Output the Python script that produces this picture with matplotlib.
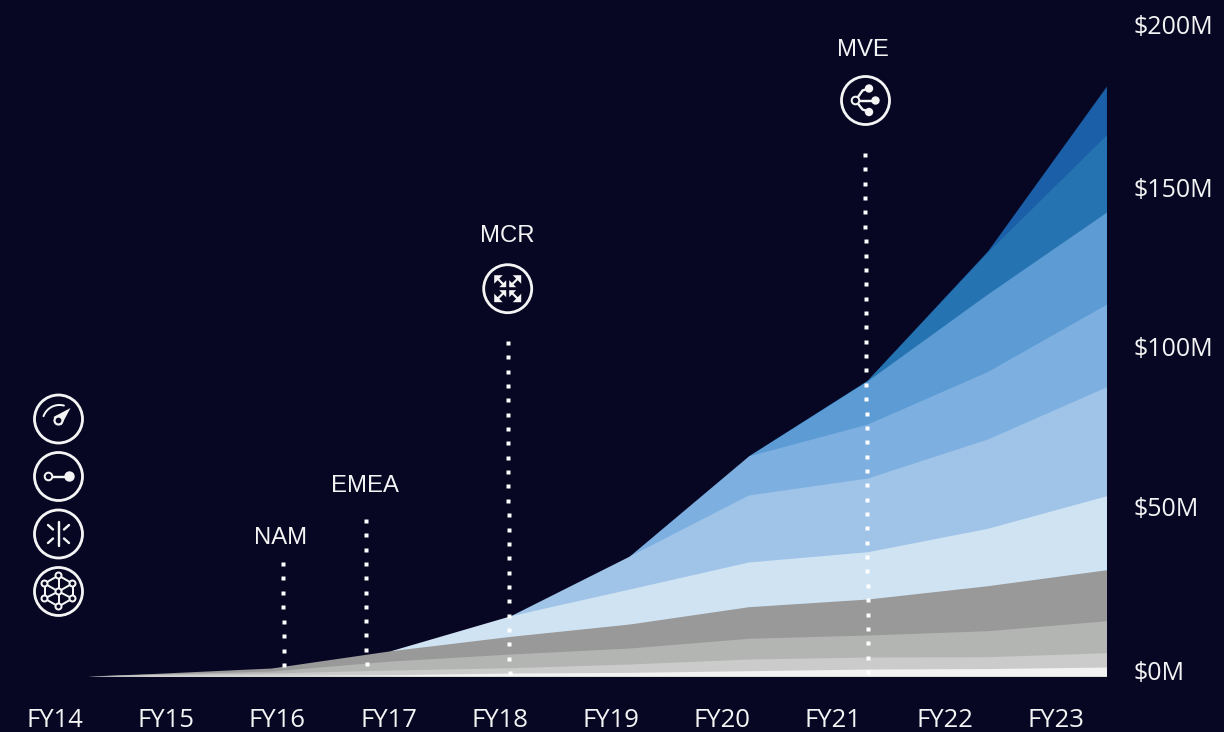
import numpy as np
import matplotlib
matplotlib.use('Agg')
import matplotlib.pyplot as plt
from matplotlib.patches import Circle, Polygon

BG = '#070724'
WHITE = '#f4f4f4'

# fiscal year positions of the area vertices (0 = FY14)
years = [0.30, 0.87, 1.95, 3.02, 4.10, 5.17, 6.24, 7.31, 8.39, 9.46]

# stacked layers in $M, bottom to top
layer1 = [0, 0.15, 0.22, 0.40, 0.93, 1.14, 1.64, 2.16, 2.32, 2.78]
layer2 = [0, 0.31, 0.71, 1.45, 1.64, 2.57, 3.62, 3.71, 3.65, 4.42]
layer3 = [0, 0.15, 0.62, 2.78, 4.23, 4.95, 6.40, 6.80, 8.04, 9.89]
layer4 = [0, 0.15, 0.93, 3.18, 5.47, 7.42, 9.77, 11.13, 13.91, 15.77]
layer5 = [0, 0, 0, 0, 6.37, 10.82, 13.82, 14.62, 17.74, 22.87]
layer6 = [0, 0, 0, 0, 0, 10.20, 20.71, 22.78, 27.60, 33.69]
layer7 = [0, 0, 0, 0, 0, 0, 12.06, 16.69, 20.87, 25.56]
layer8 = [0, 0, 0, 0, 0, 0, 0, 13.38, 23.96, 28.44]
layer9 = [0, 0, 0, 0, 0, 0, 0, 0.20, 12.98, 23.90]
layer10 = [0, 0, 0, 0, 0, 0, 0, 0, 0.30, 15.05]

colors = ['#f2f2f2', '#cbcbcb', '#b3b5b3', '#999999', '#d0e3f3',
          '#a0c4e8', '#7db0e0', '#5c9bd4', '#2573b0', '#1a5fa8']

fy_labels = ['FY14', 'FY15', 'FY16', 'FY17', 'FY18', 'FY19', 'FY20', 'FY21', 'FY22', 'FY23']
y_ticks = [0, 50, 100, 150, 200]
y_labels = ['$0M', '$50M', '$100M', '$150M', '$200M']


def px(v):
    return v * 0.72


def ring(ax, x, y, r=3.2, lw=2.0, face=BG):
    ax.add_patch(Circle((x, y), r, fc=face, ec=WHITE, lw=px(lw), zorder=6))


def dot(ax, x, y, r):
    ax.add_patch(Circle((x, y), r, fc=WHITE, ec='none', zorder=6))


def seg(ax, xs, ys, lw=2.4):
    ax.plot(xs, ys, color=WHITE, lw=px(lw), solid_capstyle='round', zorder=5)


def badge(ax, x, y):
    ax.add_patch(Circle((x, y), 24, fc='none', ec=WHITE, lw=px(2.8), zorder=5))


def gauge_icon(ax, x, y):
    badge(ax, x, y)
    t = np.radians(np.linspace(200, 285, 30))
    seg(ax, x + 1 + 17 * np.cos(t), y + 3 + 17 * np.sin(t), lw=2.0)
    ax.add_patch(Polygon([(x + 12, y - 11), (x - 5, y - 2), (x + 3, y + 6)], fc=WHITE, ec='none', zorder=5))
    ring(ax, x, y + 1.5, r=4, lw=2.2)


def link_icon(ax, x, y):
    badge(ax, x, y)
    seg(ax, [x - 9, x + 11], [y, y])
    ring(ax, x - 10, y, r=3.8)
    dot(ax, x + 11, y, 5.2)


def split_icon(ax, x, y):
    badge(ax, x, y)
    seg(ax, [x, x], [y - 12, y + 12])
    for sx in (-1, 1):
        for sy in (-1, 1):
            seg(ax, [x + sx * 5.5, x + sx * 10.5], [y + sy * 4.5, y + sy * 9])


def network_icon(ax, x, y):
    badge(ax, x, y)
    nodes = [(0, -16), (14, -8), (14, 7), (0, 15), (-14, 7), (-14, -8)]
    for i in range(6):
        a, b = nodes[i], nodes[(i + 1) % 6]
        seg(ax, [x + a[0], x + b[0]], [y + a[1], y + b[1]], lw=2)
        seg(ax, [x + a[0], x], [y + a[1], y], lw=2)
    for n in nodes:
        ring(ax, x + n[0], y + n[1], r=3)
    ring(ax, x, y, r=3)


def expand_icon(ax, x, y):
    badge(ax, x, y)
    for sx in (-1, 1):
        for sy in (-1, 1):
            seg(ax, [x + sx * 3, x + sx * 11], [y + sy * 3, y + sy * 11], lw=2.2)
            ax.add_patch(Polygon([(x + sx * 13.5, y + sy * 13.5), (x + sx * 5, y + sy * 13.5), (x + sx * 13.5, y + sy * 5)],
                                 fc=WHITE, ec='none', zorder=5))
            ax.add_patch(Polygon([(x + sx * 1.5, y + sy * 1.5), (x + sx * 8.5, y + sy * 1.5), (x + sx * 1.5, y + sy * 8.5)],
                                 fc=WHITE, ec='none', zorder=5))


def branch_icon(ax, x, y):
    badge(ax, x, y)
    seg(ax, [x - 10, x + 10], [y, y])
    seg(ax, [x - 10, x - 3, x + 3], [y, y - 10, y - 12])
    seg(ax, [x - 10, x - 3, x + 3], [y, y + 9, y + 11])
    ring(ax, x - 10, y, r=3.8)
    dot(ax, x + 3.5, y - 12, 4.2)
    dot(ax, x + 10, y, 4.2)
    dot(ax, x + 3.5, y + 11.5, 4.2)


def dotted(ax, x0, y0, x1, y1):
    n = int(round((y1 - y0) / 14.35)) + 1
    ax.plot(np.linspace(x0, x1, n), np.linspace(y0, y1, n), ls='none', marker='s',
            ms=px(3.2), mfc='white', mec='none', zorder=4)


fig = plt.figure(figsize=(12.24, 7.32), dpi=100, facecolor=BG)
ax = fig.add_axes([0, 0, 1, 1])
ax.set_facecolor(BG)
ax.set_xlim(-0.490, 10.517)
ax.set_ylim(-17.3, 208.97)
ax.axis('off')

# painted from the top layer down so no seams show between neighbours
layers = [layer1, layer2, layer3, layer4, layer5, layer6, layer7, layer8, layer9, layer10]
tops = np.cumsum(layers, axis=0)
for i in range(len(layers) - 1, -1, -1):
    start = max(np.nonzero(np.array(layers[i]) > 0)[0][0] - 1, 0)
    ax.fill_between(years[start:], 0, tops[i][start:], color=colors[i], lw=0)

tick_font = 'Open Sans'
for i, label in enumerate(fy_labels):
    ax.annotate(label, xy=(i, 0), xytext=(0.5, -44), textcoords='offset pixels', ha='center', va='center',
                color=WHITE, fontsize=18.5, family=tick_font)

label_offsets = [3, 5, 3, 0, 2]
for value, label, off in zip(y_ticks, y_labels, label_offsets):
    ax.annotate(label, xy=(9.70, value), xytext=(0, off), textcoords='offset pixels', ha='left', va='center',
                color=WHITE, fontsize=18, family=tick_font)

# decoration layer, in picture pixels
over = fig.add_axes([0, 0, 1, 1])
over.set_xlim(0, 1224)
over.set_ylim(732, 0)
over.axis('off')
over.patch.set_alpha(0)

dotted(over, 283, 564, 284, 665)
dotted(over, 365.5, 521, 366.5, 664)
dotted(over, 507.5, 343, 509.5, 673)
dotted(over, 865, 155, 868, 672)

for name, x, y in [('NAM', 281, 538), ('EMEA', 365, 486), ('MCR', 507, 236), ('MVE', 863, 50)]:
    over.text(x, y, name, color=WHITE, fontsize=17.2, family='Liberation Sans', ha='center', va='center')

gauge_icon(over, 58.5, 419)
link_icon(over, 58.5, 476.5)
split_icon(over, 58.5, 534)
network_icon(over, 58.5, 591.5)
expand_icon(over, 507.7, 288.7)
branch_icon(over, 865.5, 100.5)

fig.savefig('out.png', dpi=100, facecolor=BG)
